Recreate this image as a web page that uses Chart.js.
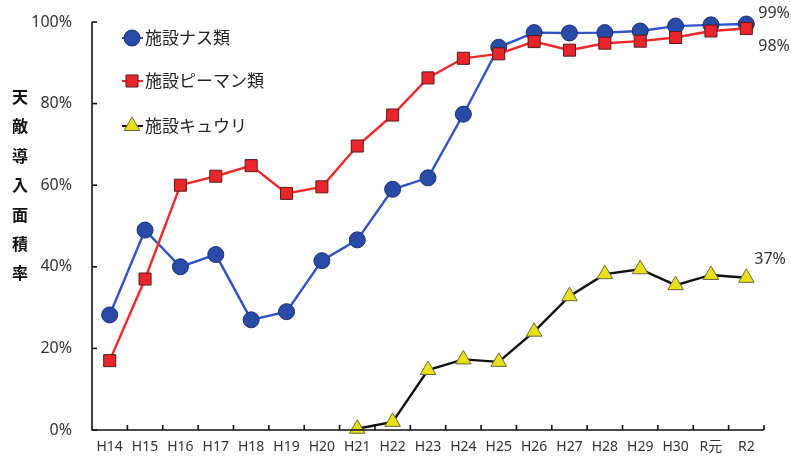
<!DOCTYPE html>
<html>
<head>
<meta charset="utf-8">
<script src="https://cdn.jsdelivr.net/npm/chart.js@4/dist/chart.umd.min.js"></script>
<style>
  html, body { margin: 0; padding: 0; background: #fff; }
  #wrap { width: 791px; height: 462px; }
</style>
</head>
<body>
<div id="wrap"><canvas id="chart" width="791" height="462"></canvas></div>
<script>
const years = ["H14","H15","H16","H17","H18","H19","H20","H21","H22","H23","H24","H25","H26","H27","H28","H29","H30","R元","R2"];
const nasu = [28.2, 49, 40, 43, 27, 29, 41.5, 46.6, 59, 61.8, 77.4, 93.8, 97.4, 97.3, 97.4, 97.8, 99, 99.3, 99.5];
const piman = [17, 37, 60, 62.2, 64.8, 58, 59.6, 69.6, 77.2, 86.3, 91.1, 92.2, 95.2, 93.1, 94.8, 95.3, 96.2, 97.8, 98.4];
const kyuri = [null, null, null, null, null, null, null, 0.3, 2, 14.7, 17.3, 16.7, 24.1, 32.8, 38.2, 39.4, 35.5, 38, 37.3];
const seriesNames = ["施設ナス類", "施設ピーマン類", "施設キュウリ"];
const endLabels = ["99%", "98%", "37%"];
const yTicks = [0, 20, 40, 60, 80, 100];
const yTitle = "天敵導入面積率";

const FONT = "'Noto Sans', 'Noto Sans CJK JP', sans-serif";
const JP = "'Noto Sans CJK JP', sans-serif";

// legend, axis title, inner ticks, end labels
const extras = {
  id: "extras",
  afterDatasetsDraw(chart) {
    const ctx = chart.ctx;
    const x = chart.scales.x, y = chart.scales.y;
    const area = chart.chartArea;
    ctx.save();

    // axes
    ctx.strokeStyle = "#111";
    ctx.lineWidth = 1.6;
    ctx.beginPath();
    ctx.moveTo(area.left, area.top);
    ctx.lineTo(area.left, area.bottom);
    ctx.lineTo(area.right, area.bottom);
    ctx.stroke();
    yTicks.forEach(v => {
      const py = y.getPixelForValue(v);
      ctx.beginPath();
      ctx.moveTo(area.left, py);
      ctx.lineTo(area.left + 5, py);
      ctx.stroke();
    });
    const n = years.length;
    for (let i = 1; i <= n; i++) {
      const px = area.left + (area.right - area.left) * i / n;
      ctx.beginPath();
      ctx.moveTo(px, area.bottom);
      ctx.lineTo(px, area.bottom - 5);
      ctx.stroke();
    }

    // y title, stacked characters
    ctx.fillStyle = "#111";
    ctx.font = "bold 16px " + JP;
    ctx.textAlign = "center";
    ctx.textBaseline = "middle";
    [...yTitle].forEach((c, i) => ctx.fillText(c, 20, 97 + i * 29.4));

    // legend
    const rows = [38, 81, 126];
    chart.data.datasets.forEach((ds, i) => {
      const ly = rows[i];
      ctx.strokeStyle = ds.borderColor;
      ctx.lineWidth = 2;
      ctx.beginPath();
      ctx.moveTo(122, ly);
      ctx.lineTo(143, ly);
      ctx.stroke();
      ctx.fillStyle = ds.pointBackgroundColor;
      ctx.strokeStyle = ds.pointBorderColor;
      ctx.lineWidth = 1;
      Chart.helpers.drawPoint(ctx, { pointStyle: ds.pointStyle, radius: ds.pointRadius, borderWidth: 1 }, 132, ly);
      ctx.fillStyle = "#222";
      ctx.font = "17px " + JP;
      ctx.textAlign = "left";
      ctx.fillText(ds.label, 145, ly);
    });

    // end labels
    const offs = [[12, -11], [12, 18], [8, -18]];
    ctx.font = "16px " + FONT;
    ctx.fillStyle = "#333";
    ctx.textAlign = "left";
    chart.data.datasets.forEach((ds, i) => {
      const meta = chart.getDatasetMeta(i);
      const pt = meta.data[meta.data.length - 1];
      ctx.fillText(endLabels[i], pt.x + offs[i][0], pt.y + offs[i][1]);
    });
    ctx.restore();
  }
};

function series(label, data, line, fill, edge, style, r, order) {
  return {
    label: label, data: data, order: order,
    borderColor: line, borderWidth: 2.4,
    pointStyle: style, pointRadius: r, pointHoverRadius: r,
    pointBackgroundColor: fill, pointBorderColor: edge, pointBorderWidth: 1,
    spanGaps: false, tension: 0, clip: false
  };
}

new Chart(document.getElementById("chart"), {
  type: "line",
  data: {
    labels: years,
    datasets: [
      series(seriesNames[0], nasu, "#2F52C8", "#2A4AA8", "#1c2f70", "circle", 8, 3),
      series(seriesNames[1], piman, "#F22828", "#E8262B", "#5a1a1a", "rect", 8.5, 2),
      series(seriesNames[2], kyuri, "#111111", "#E8E018", "#6a6a3a", "triangle", 9, 1)
    ]
  },
  plugins: [extras],
  options: {
    responsive: false,
    animation: false,
    devicePixelRatio: 1,
    layout: { autoPadding: false, padding: { left: 0, right: 27, top: 22, bottom: 0 } },
    plugins: { legend: { display: false }, tooltip: { enabled: false } },
    scales: {
      x: {
        offset: true,
        grid: { display: false, drawTicks: false },
        border: { display: false },
        ticks: { color: "#333", font: { family: FONT, size: 14 }, padding: 9, maxRotation: 0, autoSkip: false },
        afterFit: s => { s.height = 32; s.paddingLeft = 0; s.paddingRight = 0; }
      },
      y: {
        min: 0, max: 100,
        grid: { display: false, drawTicks: false },
        border: { display: false },
        afterBuildTicks: s => { s.ticks = yTicks.map(v => ({ value: v })); },
        ticks: { color: "#333", font: { family: FONT, size: 16 }, padding: 20, callback: v => v + "%" },
        afterFit: s => { s.width = 92; s.paddingTop = 0; s.paddingBottom = 0; }
      }
    }
  }
});
</script>
</body>
</html>
